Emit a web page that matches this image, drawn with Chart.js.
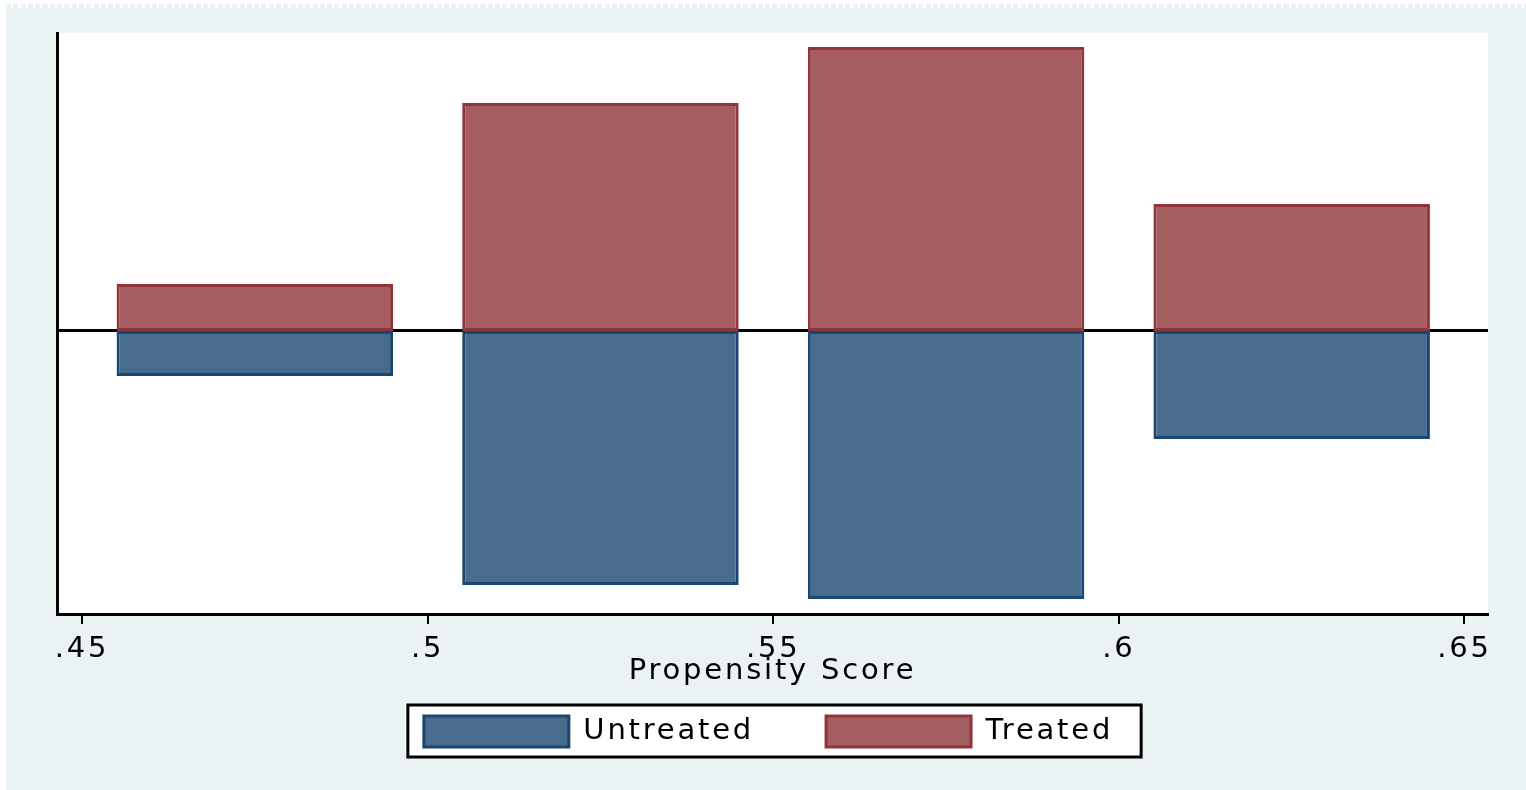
<!DOCTYPE html>
<html><head><meta charset="utf-8">
<script src="https://cdn.jsdelivr.net/npm/chart.js@4.4.0/dist/chart.umd.min.js"></script>
<style>
html,body{margin:0;padding:0;background:#fff;width:1526px;height:790px;overflow:hidden;}
#strip{position:absolute;left:6px;top:4px;width:1520px;height:4px;background:repeating-linear-gradient(90deg,#EAF2F3 0 5px,#fff 5px 7.3px);}
#wrap{position:absolute;left:6px;top:8px;width:1520px;height:782px;background:#EAF2F3;}
canvas{display:block;}
</style></head><body>
<div id="strip"></div>
<div id="wrap"><canvas id="c" width="1520" height="782"></canvas></div>
<script>
// ---- data ----
const binCenters = [0.475, 0.525, 0.575, 0.625];
const untreated = [-3.0, -16.93, -17.87, -7.2];
const treated = [3.13, 15.2, 18.93, 8.47];
const xTickValues = [0.45, 0.5, 0.55, 0.6, 0.65];
const xTickLabels = ['.45', '.5', '.55', '.6', '.65'];
const seriesNames = ['Untreated', 'Treated'];
const xTitle = 'Propensity Score';
const xRange = [0.44638, 0.6534];
const yRange = [-18.87, 19.87];

// ---- styles ----
const FONT = {family: '"DejaVu Sans", sans-serif', size: 29, lineHeight: 1.2};
const SPACING = '2.8px';
const LEG_PAD = 72;

const stataPlugin = {
  id: 'stata',
  beforeUpdate(c) { c.ctx.letterSpacing = SPACING; },
  beforeLayout(c) { c.ctx.letterSpacing = SPACING; },
  beforeDraw(c) {
    const ctx = c.ctx;
    ctx.letterSpacing = SPACING;
    const a = c.chartArea;
    ctx.save();
    ctx.fillStyle = '#fff';
    ctx.fillRect(a.left, a.top, a.right - a.left, a.bottom - a.top);
    // legend frame
    const lg = c.legend;
    const P = lg.options.labels.padding;
    const lw = lg.lineWidths[0];
    const startX = (lg.left + P + lg.right - lw) / 2;
    const itemTop = lg.top + P + lg._computeTitleHeight();
    const bh = lg.options.labels.boxHeight;
    const x0 = startX - 16, x1 = startX + (lw - P) + 28;
    const y0 = itemTop - 11, y1 = itemTop + bh + 10;
    ctx.fillStyle = '#fff';
    ctx.fillRect(x0, y0, x1 - x0, y1 - y0);
    ctx.strokeStyle = '#000';
    ctx.lineWidth = 3;
    ctx.strokeRect(x0, y0, x1 - x0, y1 - y0);
    ctx.restore();
  }
};

new Chart(document.getElementById('c'), {
  type: 'bar',
  data: {
    datasets: [
      {
        label: seriesNames[0],
        data: binCenters.map((x, i) => ({x: x, y: untreated[i]})),
        backgroundColor: '#486C8C',
        borderColor: '#1A476F',
        borderWidth: 3,
        borderSkipped: false,
        barPercentage: 0.8,
        categoryPercentage: 1.0
      },
      {
        label: seriesNames[1],
        data: binCenters.map((x, i) => ({x: x, y: treated[i]})),
        backgroundColor: '#A45E61',
        borderColor: '#90353B',
        borderWidth: 3,
        borderSkipped: false,
        barPercentage: 0.8,
        categoryPercentage: 1.0
      }
    ]
  },
  options: {
    responsive: false,
    animation: false,
    events: [],
    layout: {padding: {left: 43, right: 38, top: 25, bottom: 33}},
    plugins: {
      tooltip: {enabled: false},
      legend: {
        position: 'bottom',
        title: {display: true, text: '', font: {size: 10, lineHeight: 1}, padding: {top: -28, bottom: 0}},
        labels: {
          boxWidth: 145, boxHeight: 31, padding: LEG_PAD,
          color: '#000', font: FONT
        }
      }
    },
    scales: {
      x: {
        type: 'linear',
        stacked: true,
        offset: false,
        min: xRange[0], max: xRange[1],
        afterBuildTicks: s => { s.ticks = xTickValues.map(v => ({value: v})); },
        afterFit: s => { s.height = 48; },
        ticks: {
          autoSkip: false, maxRotation: 0, minRotation: 0,
          padding: 8, color: '#000', font: FONT,
          callback: (v, i) => xTickLabels[i]
        },
        grid: {
          display: true, drawOnChartArea: false, drawTicks: true, offset: false,
          tickLength: 10, tickWidth: 2, tickColor: '#000', color: '#000', lineWidth: 2
        },
        border: {display: true, color: '#000', width: 3},
        title: {
          display: true, text: xTitle, color: '#000', font: FONT,
          padding: {top: 0, bottom: -26.4}
        }
      },
      y: {
        type: 'linear',
        position: 'left',
        stacked: true,
        min: yRange[0], max: yRange[1],
        afterFit: s => { s.width = 8; },
        ticks: {display: false},
        grid: {display: false},
        border: {display: true, color: '#000', width: 3}
      },
      yZero: {
        type: 'linear',
        position: 'left',
        min: yRange[0], max: yRange[1],
        afterBuildTicks: s => { s.ticks = [{value: 0}]; },
        afterFit: s => { s.width = 0; },
        ticks: {display: false},
        grid: {display: true, drawTicks: false, color: '#000', lineWidth: 3},
        border: {display: false}
      }
    }
  },
  plugins: [stataPlugin]
});
</script>
</body></html>
